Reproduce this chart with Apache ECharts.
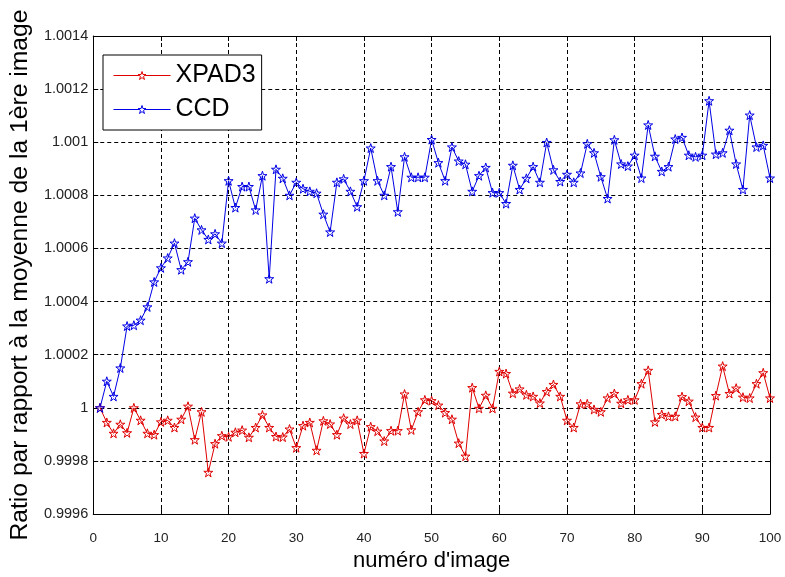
<!DOCTYPE html>
<html>
<head>
<meta charset="utf-8">
<script src="https://cdn.jsdelivr.net/npm/echarts@6/dist/echarts.min.js"></script>
<style>html,body{margin:0;padding:0;background:#fff;overflow:hidden}#c{width:785px;height:577px}</style>
</head>
<body>
<div id="c"></div>
<script>
const imageNumbers = Array.from({length: 100}, (_, i) => i + 1);
const xpad3 = [
1.0000,0.999945,0.999904,0.999938,0.999906,1.0000,0.999953,0.999904,0.999899,0.999947,
0.999953,0.999926,0.999957,1.000006,0.99988,0.999985,0.999757,0.999865,0.999895,0.999891,
0.999908,0.999916,0.999889,0.999926,0.999973,0.999926,0.999892,0.99989,0.99992,0.99985,
0.999933,0.999945,0.99984,0.999951,0.999939,0.999899,0.999961,0.999939,0.999953,0.999828,
0.999929,0.999912,0.999875,0.999914,0.999914,1.000052,0.999917,0.999985,1.00003,1.000027,
1.00001,0.999982,0.999957,0.999867,0.999818,1.000076,0.999998,1.000047,0.999998,1.000137,
1.000129,1.000055,1.000071,1.000049,1.000043,1.000018,1.000061,1.000088,1.000043,0.999953,
0.999926,1.000015,1.000015,0.999994,0.999985,1.000037,1.000054,1.000017,1.00003,1.00003,
1.000091,1.000141,0.999947,0.999975,0.999968,0.999968,1.000042,1.000025,0.999965,0.999926,
0.999926,1.000046,1.000157,1.000054,1.000074,1.00004,1.000037,1.000091,1.000132,1.000037
];
const ccd = [
1.0000,1.0001,1.000043,1.00015,1.000308,1.000311,1.00033,1.00038,1.000474,1.000527,
1.000564,1.00062,1.00052,1.00055,1.000714,1.00067,1.000634,1.000655,1.00062,1.000855,
1.000754,1.000833,1.000833,1.000745,1.000874,1.000486,1.000898,1.000864,1.0008,1.000849,
1.000825,1.000815,1.000808,1.000729,1.000662,1.000849,1.000862,1.000815,1.000757,1.000855,
1.000978,1.000855,1.0008,1.000908,1.000738,1.000945,1.000868,1.000868,1.000868,1.00101,
1.000923,1.000855,1.000982,1.000929,1.000917,1.000815,1.000874,1.000905,1.00081,1.00081,
1.000769,1.000913,1.000822,1.000864,1.000908,1.000849,1.000999,1.000896,1.000852,1.000879,
1.000849,1.000884,1.000994,1.00096,1.00087,1.000788,1.001009,1.000918,1.00091,1.000951,
1.000865,1.001065,1.000947,1.00089,1.000908,1.001012,1.001018,1.000951,1.000945,1.000951,
1.001156,1.000955,1.00096,1.001045,1.000918,1.000822,1.001102,1.000982,1.000988,1.000865
];
const seriesNames = ['XPAD3', 'CCD'];
const seriesColors = ['#e00000', '#0000e6'];
const xTitle = "numéro d'image";
const yTitle = 'Ratio par rapport à la moyenne de la 1ère image';

const star = 'path://M50 0 L61.23 34.55 L97.55 34.55 L68.17 55.9 L79.39 90.45 L50 69.1 L20.61 90.45 L31.83 55.9 L2.45 34.55 L38.77 34.55 Z';
const font = "'Liberation Sans', Arial, sans-serif";
const fmtY = v => String(parseFloat(v.toFixed(4)));

const chart = echarts.init(document.getElementById('c'), null, {renderer: 'canvas'});
const mk = (name, data, color) => ({
  name, type: 'line', xAxisIndex: 0, yAxisIndex: 0,
  data: imageNumbers.map((x, i) => [x, data[i]]),
  symbol: star, symbolSize: 9, showSymbol: true,
  lineStyle: {color, width: 1},
  itemStyle: {color: 'rgba(255,255,255,0)', borderColor: color, borderWidth: 1},
  emphasis: {disabled: true}, animation: false
});
const tickIn = {show: true, inside: true, length: 5, lineStyle: {color: '#000', width: 1}};
chart.setOption({
  backgroundColor: '#fff',
  animation: false,
  grid: {left: 93, right: 15, top: 36, bottom: 51, containLabel: false},
  legend: {
    data: seriesNames.map((n, i) => ({
      name: n,
      itemStyle: {color: '#fff', borderColor: seriesColors[i], borderWidth: 1},
      lineStyle: {color: seriesColors[i], width: 1}
    })),
    orient: 'vertical', left: 103, top: 55,
    backgroundColor: '#fff', borderColor: '#000', borderWidth: 1,
    padding: [8, 6, 8, 10], itemGap: 9, itemWidth: 57, itemHeight: 10,
    textStyle: {fontFamily: font, fontSize: 25, color: '#000'}
  },
  xAxis: [{
    type: 'value', min: 0, max: 100, interval: 10, position: 'bottom',
    name: xTitle, nameLocation: 'middle', nameGap: 33,
    nameTextStyle: {fontFamily: font, fontSize: 22, color: '#000'},
    axisLine: {show: true, onZero: false, lineStyle: {color: '#000', width: 1}},
    axisTick: tickIn,
    axisLabel: {fontFamily: font, fontSize: 13.5, color: '#222', margin: 17},
    splitLine: {show: true, lineStyle: {color: '#000', type: [4, 3], width: 1}}
  }, {
    type: 'value', min: 0, max: 100, interval: 10, position: 'top',
    axisLine: {show: true, onZero: false, lineStyle: {color: '#000', width: 1}},
    axisTick: tickIn, axisLabel: {show: false}, splitLine: {show: false}
  }],
  yAxis: [{
    type: 'value', min: 0.9996, max: 1.0014, interval: 0.0002, position: 'left',
    name: yTitle, nameLocation: 'middle', nameGap: 59, nameRotate: 90,
    nameTextStyle: {fontFamily: font, fontSize: 24.7, color: '#000'},
    axisLine: {show: true, onZero: false, lineStyle: {color: '#000', width: 1}},
    axisTick: tickIn,
    axisLabel: {fontFamily: font, fontSize: 14.5, color: '#222', margin: 5, formatter: fmtY},
    splitLine: {show: true, lineStyle: {color: '#000', type: [4, 3], width: 1}}
  }, {
    type: 'value', min: 0.9996, max: 1.0014, interval: 0.0002, position: 'right',
    axisLine: {show: true, onZero: false, lineStyle: {color: '#000', width: 1}},
    axisTick: tickIn, axisLabel: {show: false}, splitLine: {show: false}
  }],
  series: [mk(seriesNames[0], xpad3, seriesColors[0]), mk(seriesNames[1], ccd, seriesColors[1])]
});
</script>
</body>
</html>
